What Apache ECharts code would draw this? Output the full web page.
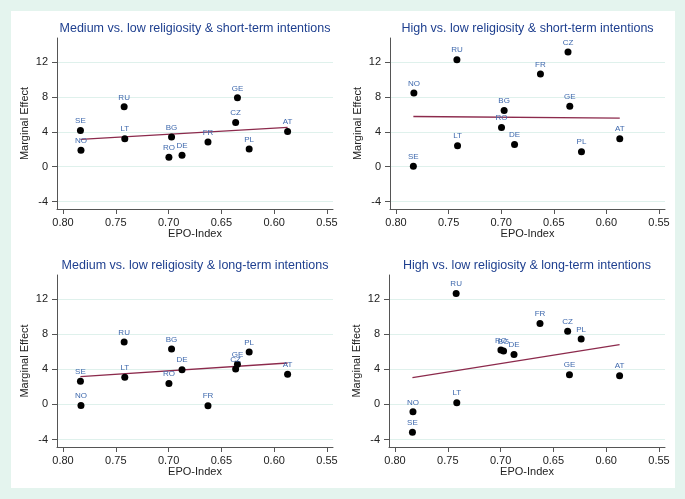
<!DOCTYPE html>
<html>
<head>
<meta charset="utf-8">
<script src="https://cdn.jsdelivr.net/npm/echarts@6/dist/echarts.min.js"></script>
<style>
html,body{margin:0;padding:0;background:#e4f4ee;}
#frame{position:absolute;left:11px;top:11px;width:664px;height:477px;background:#fff;}
#chart{position:absolute;left:0;top:0;width:685px;height:499px;}
</style>
</head>
<body>
<div id="frame"></div>
<div id="chart"></div>
<script>
// Countries and their EPO-Index values
const countries = ['SE','NO','RU','LT','BG','RO','DE','FR','CZ','GE','PL','AT'];
const epo = [0.7835, 0.7830, 0.7421, 0.7415, 0.6972, 0.6997, 0.6873, 0.6627, 0.6365, 0.6348, 0.6237, 0.5873];

// Marginal effects per panel (same country order)
const medShort  = [4.15, 1.87, 6.86, 3.20, 3.39, 1.07, 1.30, 2.82, 5.07, 7.89, 2.02, 4.04];
const highShort = [0.04, 8.46, 12.27, 2.40, 6.44, 4.50, 2.55, 10.63, 13.14, 6.93, 1.71, 3.20];
const medLong   = [2.63, -0.11, 7.12, 3.09, 6.32, 2.40, 3.96, -0.15, 4.04, 4.57, 5.98, 3.43];
const highLong  = [-3.16, -0.84, 12.65, 0.19, 6.10, 6.21, 5.68, 9.22, 8.34, 3.39, 7.47, 3.28];

// Fitted line endpoints [x, y]
const fitX = [0.7835, 0.5873];
const fitMedShort  = [3.12, 4.50];
const fitHighShort = [5.75, 5.56];
const fitMedLong   = [3.16, 4.72];
const fitHighLong  = [3.05, 6.82];

const titles = [
  'Medium vs. low religiosity & short-term intentions',
  'High vs. low religiosity & short-term intentions',
  'Medium vs. low religiosity & long-term intentions',
  'High vs. low religiosity & long-term intentions'
];
const xTicks = [0.80, 0.75, 0.70, 0.65, 0.60, 0.55];
const yTicks = [-4, 0, 4, 8, 12];

const panels = [medShort, highShort, medLong, highLong];
const fits = [fitMedShort, fitHighShort, fitMedLong, fitHighLong];

const grids = [
  {left: 57, top: 38, width: 276, height: 171},
  {left: 390, top: 38, width: 275, height: 171},
  {left: 57, top: 275, width: 276, height: 172},
  {left: 389, top: 275, width: 276, height: 172}
];

const axisColor = '#555';
const textColor = '#222';
const font = 'Liberation Sans, Arial, sans-serif';

const xAxes = [], yAxes = [], series = [], graphics = [];
grids.forEach((g, i) => {
  xAxes.push({
    type: 'value', gridIndex: i, inverse: true, min: 0.5443, max: 0.8057,
    name: 'EPO-Index', nameLocation: 'middle', nameGap: 19,
    nameTextStyle: {color: textColor, fontSize: 11, fontFamily: font},
    axisLine: {show: true, onZero: false, lineStyle: {color: axisColor, width: 1}},
    axisTick: {show: true, length: 5, customValues: xTicks, lineStyle: {color: axisColor}},
    axisLabel: {show: true, margin: 8, customValues: xTicks, color: textColor, fontSize: 11, fontFamily: font,
      formatter: v => v.toFixed(2)},
    splitLine: {show: false}
  });
  yAxes.push({
    type: 'value', gridIndex: i, min: -4.85, max: 14.75,
    name: 'Marginal Effect', nameLocation: 'middle', nameGap: 27,
    nameTextStyle: {color: textColor, fontSize: 11, fontFamily: font},
    axisLine: {show: true, onZero: false, lineStyle: {color: axisColor, width: 1}},
    axisTick: {show: true, length: 5, customValues: yTicks, lineStyle: {color: axisColor}},
    axisLabel: {show: true, margin: 9, customValues: yTicks, color: textColor, fontSize: 11, fontFamily: font},
    splitLine: {show: true, lineStyle: {color: '#dff1ec', width: 1}}
  });
  series.push({
    type: 'scatter', xAxisIndex: i, yAxisIndex: i, symbolSize: 7,
    itemStyle: {color: '#000', opacity: 1},
    data: countries.map((c, k) => ({name: c, value: [epo[k], panels[i][k]]})),
    label: {show: true, position: 'top', distance: 2, formatter: p => p.name,
      color: '#3f69ad', fontSize: 8, fontFamily: font},
    z: 3
  });
  series.push({
    type: 'line', xAxisIndex: i, yAxisIndex: i, symbol: 'none',
    lineStyle: {color: '#8c2a4c', width: 1.3},
    data: fitX.map((x, k) => [x, fits[i][k]]),
    z: 2
  });
  graphics.push({
    type: 'text', x: g.left + g.width / 2, y: i < 2 ? 29 : 266,
    style: {text: titles[i], fill: '#1e3f8f', fontSize: 12.5, fontFamily: font,
      align: 'center', verticalAlign: 'middle'}
  });
});

const chart = echarts.init(document.getElementById('chart'));
chart.setOption({
  animation: false,
  grid: grids,
  xAxis: xAxes,
  yAxis: yAxes,
  series: series,
  graphic: graphics
});
</script>
</body>
</html>
